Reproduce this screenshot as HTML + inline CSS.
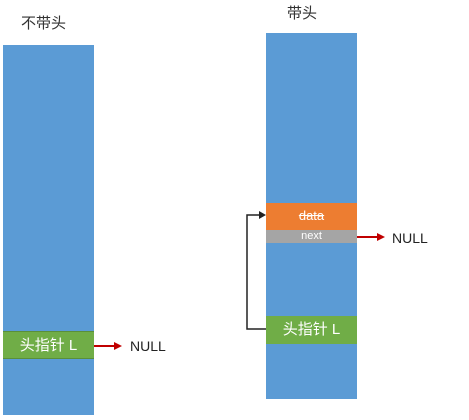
<!DOCTYPE html><html><head><style>
body{margin:0;width:469px;height:420px;background:#fff;position:relative;overflow:hidden;font-family:"Liberation Sans","Noto Sans CJK SC",sans-serif}
div{position:absolute;box-sizing:border-box}
.b{background:#5b9bd5}
.t{color:#fff;text-align:center}
</style></head><body>
<div style="left:21px;top:12px;font-size:15px;color:#333">不带头</div>
<div style="left:287px;top:2px;font-size:15px;color:#333">带头</div>
<div class="b" style="left:3px;top:45px;width:91px;height:370px"></div>
<div class="t" style="left:3px;top:331px;width:91px;height:28px;background:#70ad47;border-top:1px solid #5a8f3a;border-bottom:1px solid #5a8f3a;font-size:15px;line-height:27px">头指针 L</div>
<div style="left:130px;top:338px;font-size:14px;color:#222">NULL</div>
<div class="b" style="left:266px;top:33px;width:91px;height:366px"></div>
<div class="t" style="left:266px;top:203px;width:91px;height:27px;background:#ed7d31;font-size:13px;line-height:26px;text-decoration:line-through">data</div>
<div class="t" style="left:266px;top:230px;width:91px;height:13px;background:#a5a5a5;font-size:11px;line-height:13px">next</div>
<div class="t" style="left:266px;top:316px;width:91px;height:28px;background:#70ad47;font-size:15px;line-height:27px">头指针 L</div>
<div style="left:392px;top:230px;font-size:14px;color:#222">NULL</div>
<svg width="469" height="420" style="position:absolute;left:0;top:0">
<line x1="94" y1="346" x2="116" y2="346" stroke="#c00000" stroke-width="2"/><polygon points="122,346 114,342 114,350" fill="#c00000"/>
<line x1="357" y1="237" x2="379" y2="237" stroke="#c00000" stroke-width="2"/><polygon points="385,237 377,233 377,241" fill="#c00000"/>
<polyline points="266,329 247,329 247,215 260,215" fill="none" stroke="#222" stroke-width="1.5"/><polygon points="266,215 259,211 259,219" fill="#222"/>
</svg>
</body></html>
